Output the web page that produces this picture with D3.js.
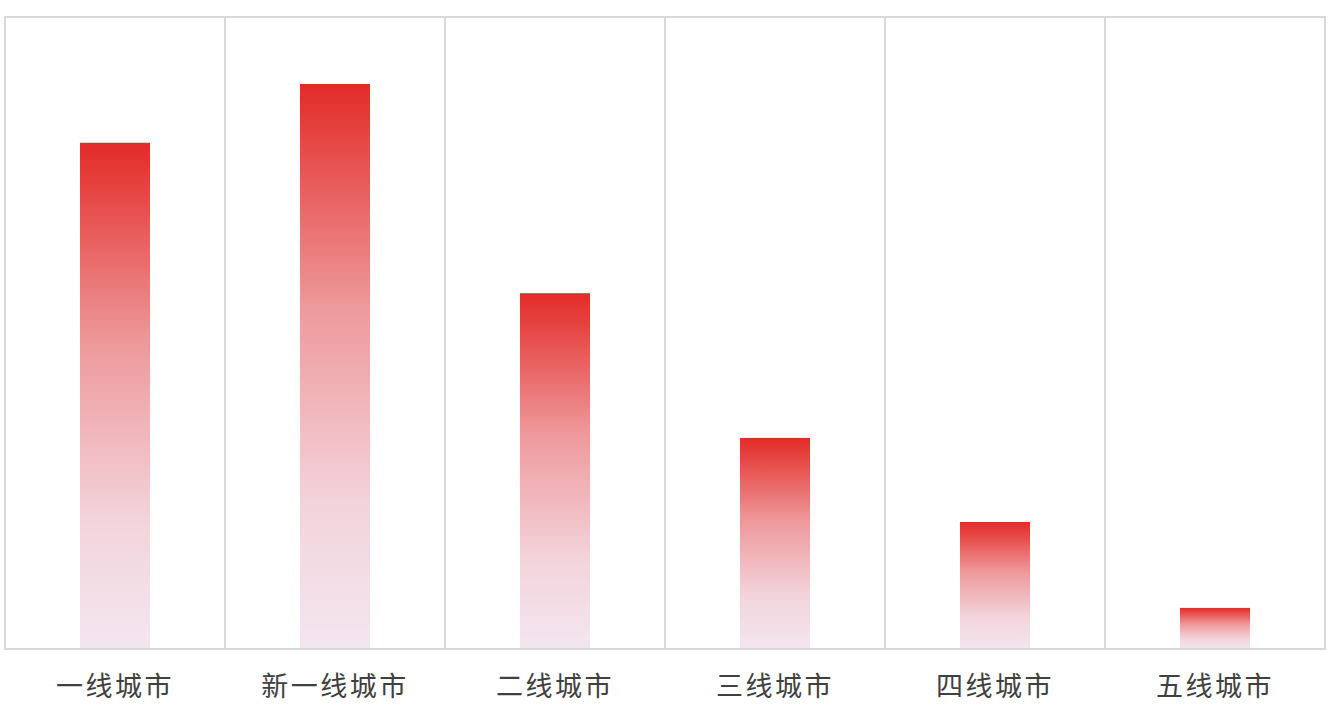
<!DOCTYPE html>
<html>
<head>
<meta charset="utf-8">
<script src="https://cdn.jsdelivr.net/npm/d3@7"></script>
<style>
  body { margin: 0; background: #fff; }
  svg { display: block; }
</style>
</head>
<body>
<div id="chart"></div>
<script>
// city tiers and bar values (no axis shown)
var categories = ["一线城市", "新一线城市", "二线城市", "三线城市", "四线城市", "五线城市"];
var values = [80.1, 89.4, 56.3, 33.4, 20.1, 6.5];
var yMax = 100;

var width = 1341, height = 711;
var margin = { top: 17, right: 16, bottom: 62, left: 5 };
var innerW = width - margin.left - margin.right;
var innerH = height - margin.top - margin.bottom;

var svg = d3.select("#chart").append("svg")
    .attr("width", width)
    .attr("height", height);

var defs = svg.append("defs");
var grad = defs.append("linearGradient")
    .attr("id", "barGrad")
    .attr("x1", 0).attr("y1", 0)
    .attr("x2", 0).attr("y2", 1);
grad.append("stop").attr("offset", "0%").attr("stop-color", "#e32b27");
grad.append("stop").attr("offset", "40%").attr("stop-color", "#ee9a9c");
grad.append("stop").attr("offset", "75%").attr("stop-color", "#f3d4dc");
grad.append("stop").attr("offset", "100%").attr("stop-color", "#f3e6ef");

var g = svg.append("g")
    .attr("transform", "translate(" + margin.left + "," + margin.top + ")");

var x = d3.scaleBand()
    .domain(categories)
    .range([0, innerW])
    .paddingInner(0).paddingOuter(0);

var y = d3.scaleLinear()
    .domain([0, yMax])
    .range([innerH, 0]);

var barW = 70;

// vertical grid lines between bands
g.selectAll(".vgrid")
    .data(categories.slice(1))
    .enter()
    .append("line")
    .attr("x1", function(d) { return x(d); })
    .attr("x2", function(d) { return x(d); })
    .attr("y1", 0)
    .attr("y2", innerH)
    .attr("stroke", "#d9d9d9")
    .attr("stroke-width", 2);

// bars
g.selectAll(".bar")
    .data(values)
    .enter()
    .append("rect")
    .attr("x", function(d, i) { return x(categories[i]) + x.bandwidth() / 2 - barW / 2; })
    .attr("y", function(d) { return y(d); })
    .attr("width", barW)
    .attr("height", function(d) { return innerH - y(d); })
    .attr("fill", "url(#barGrad)");

// frame
g.append("rect")
    .attr("x", 0).attr("y", 0)
    .attr("width", innerW).attr("height", innerH)
    .attr("fill", "none")
    .attr("stroke", "#d9d9d9")
    .attr("stroke-width", 2);

// x axis labels
var xAxis = d3.axisBottom(x).tickSize(0).tickPadding(28);
var ax = g.append("g")
    .attr("transform", "translate(0," + innerH + ")")
    .call(xAxis);
ax.select(".domain").remove();
ax.selectAll("text")
    .attr("fill", "#404040")
    .style("font-family", "'Noto Sans CJK SC', sans-serif")
    .style("font-size", "27px")
    .style("letter-spacing", "2.5px");
</script>
</body>
</html>
